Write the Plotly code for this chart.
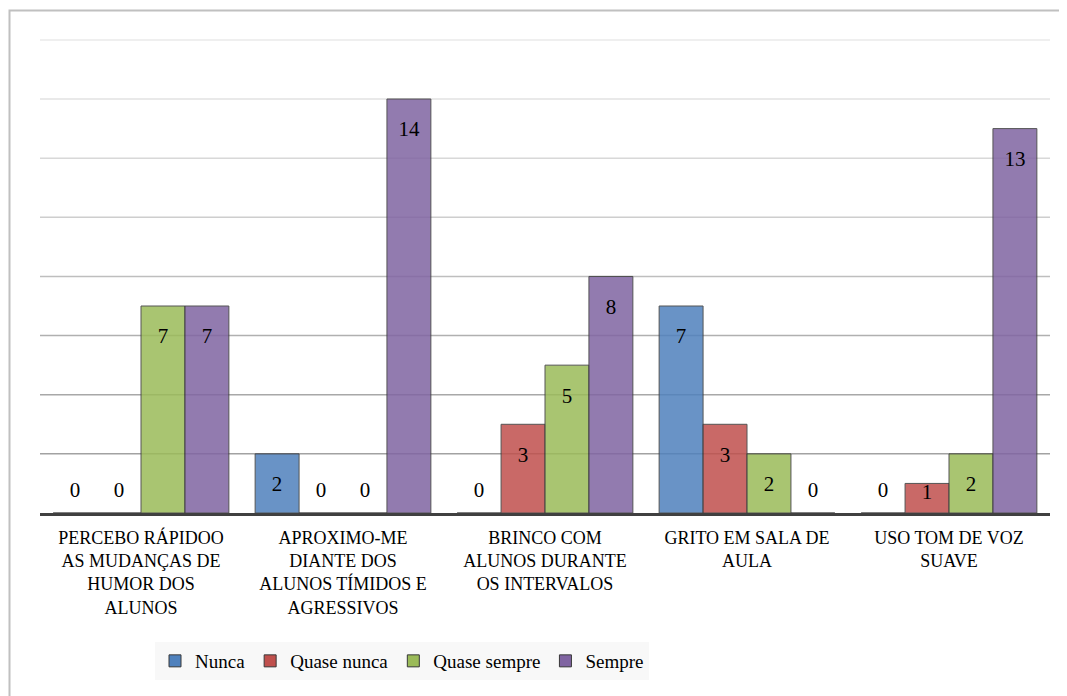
import plotly.graph_objects as go

categories = [
    "PERCEBO RÁPIDOO<br>AS MUDANÇAS DE<br>HUMOR DOS<br>ALUNOS",
    "APROXIMO-ME<br>DIANTE DOS<br>ALUNOS TÍMIDOS E<br>AGRESSIVOS",
    "BRINCO COM<br>ALUNOS DURANTE<br>OS INTERVALOS",
    "GRITO EM SALA DE<br>AULA",
    "USO TOM DE VOZ<br>SUAVE",
]
series_names = ["Nunca", "Quase nunca", "Quase sempre", "Sempre"]
nunca = [0, 2, 0, 7, 0]
quase_nunca = [0, 0, 3, 3, 1]
quase_sempre = [7, 0, 5, 2, 2]
sempre = [7, 14, 8, 0, 13]
grid_values = [2, 4, 6, 8, 10, 12, 14, 16]

colors = ["#4F81BD", "#C0504D", "#9BBB59", "#8064A2"]
grid_colors = ["#a2a2a2", "#a8a8a8", "#b0b0b0", "#bebebe", "#cecece", "#d8d8d8", "#e2e2e2", "#eaeaea"]

# page body has an 8px margin, so the figure is drawn 8px in from the window edge
W, H = 1059, 688
ML, MR, MT, MB = 32, 17, 31, 183
FONT = "Liberation Serif"
LABEL_SIZE = 21
GAP = 0.13


def label_pos(v):
    if v == 0:
        return "top center"
    return "bottom center"


def label_pad(v):
    # invisible marker size that sets the text offset from the bar end
    if v == 0:
        return 16
    if v == 1:
        return 0
    return 33


fig = go.Figure()
series = [nunca, quase_nunca, quase_sempre, sempre]
for i, (name, vals, col) in enumerate(zip(series_names, series, colors)):
    fig.add_trace(go.Bar(
        name=name,
        x=categories,
        y=vals,
        offsetgroup=str(i),
        marker=dict(color=col, opacity=0.85, line=dict(color="#383838", width=1)),
        hoverinfo="skip",
    ))
for i, (name, vals) in enumerate(zip(series_names, series)):
    fig.add_trace(go.Scatter(
        x=categories,
        y=vals,
        offsetgroup=str(i),
        mode="markers+text",
        text=[str(v) for v in vals],
        textposition=[label_pos(v) for v in vals],
        textfont=dict(family=FONT, size=LABEL_SIZE, color="black"),
        marker=dict(size=[label_pad(v) for v in vals], color="rgba(0,0,0,0)", line=dict(width=0)),
        showlegend=False,
        cliponaxis=False,
        hoverinfo="skip",
    ))

pw = W - ML - MR
ph = H - MT - MB


def px_x(p):
    return (p - ML) / pw


def px_y(p):
    return (H - MB - p) / ph


shapes = [
    dict(
        type="line", xref="paper", yref="y", x0=0, x1=1, y0=g, y1=g,
        line=dict(color=c, width=1.5), layer="below",
    )
    for g, c in zip(grid_values, grid_colors)
]
shapes.append(dict(
    type="rect",
    xref="paper",
    yref="paper",
    x0=px_x(1.5),
    x1=px_x(1070),
    y0=px_y(2.5),
    y1=px_y(700),
    line=dict(color="#c0c0c0", width=2),
    fillcolor="rgba(0,0,0,0)",
    layer="below",
))

fig.update_layout(
    width=W,
    height=H,
    margin=dict(l=ML, r=MR, t=MT, b=MB, autoexpand=False),
    paper_bgcolor="white",
    plot_bgcolor="white",
    barmode="group",
    bargap=GAP,
    bargroupgap=0,
    scattermode="group",
    scattergap=GAP,
    font=dict(family=FONT, size=18, color="black"),
    xaxis=dict(
        showline=True,
        linecolor="#404040",
        linewidth=3,
        ticks="",
        ticklabelstandoff=6,
        tickfont=dict(family=FONT, size=18, color="black"),
        showgrid=False,
    ),
    yaxis=dict(
        range=[0, 16.03],
        tickvals=grid_values,
        showticklabels=False,
        showgrid=False,
        zeroline=False,
        showline=False,
    ),
    legend=dict(
        orientation="h",
        x=px_x(147),
        y=px_y(634),
        xanchor="left",
        yanchor="top",
        bgcolor="#f8f8f8",
        font=dict(family=FONT, size=19, color="black"),
        traceorder="normal",
        itemwidth=30,
    ),
    shapes=shapes,
)

fig.write_html("out.html")
